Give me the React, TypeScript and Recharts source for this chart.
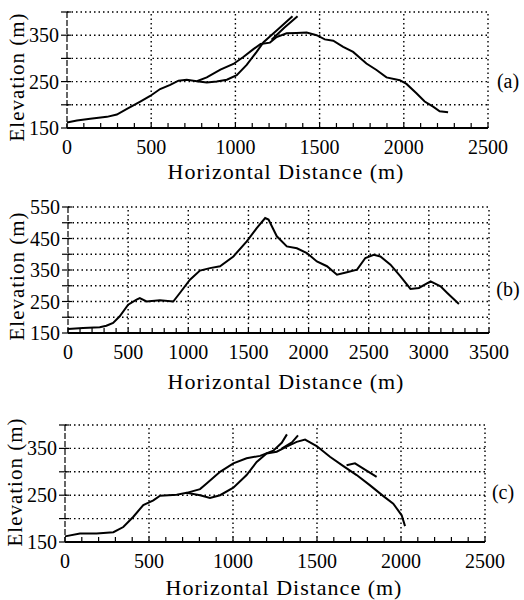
import React from 'react';
import { LineChart, Line, XAxis, YAxis, ReferenceLine } from 'recharts';

// ---- panel (a) ----
const profileAx = [0, 59, 138, 237, 296, 356, 435, 494, 553, 613, 662, 711, 771, 830, 911, 988, 1047, 1107, 1150, 1205, 1245, 1304, 1363, 1423, 1482, 1531, 1581, 1640, 1699, 1778, 1838, 1897, 1976, 2016, 2075, 2124, 2174, 2213, 2263];
const profileAy = [162, 166, 170, 174, 179, 191, 207, 219, 234, 243, 252, 254, 251, 259, 276, 288, 303, 320, 331, 334, 346, 354, 355, 356, 350, 341, 338, 325, 314, 289, 275, 259, 253, 245, 225, 207, 196, 186, 184];
const altAx = [771, 830, 889, 949, 1008, 1067, 1126, 1167, 1250, 1339];
const altAy = [251, 248, 250, 254, 264, 286, 314, 335, 362, 391];
const alt2Ax = [1215, 1290, 1369];
const alt2Ay = [340, 366, 391];

// ---- panel (b) ----
const profileBx = [0, 125, 264, 319, 375, 430, 500, 570, 597, 653, 764, 875, 930, 1014, 1097, 1180, 1264, 1375, 1486, 1569, 1639, 1667, 1736, 1819, 1903, 1986, 2069, 2153, 2236, 2319, 2403, 2472, 2542, 2597, 2681, 2764, 2847, 2917, 3014, 3097, 3153, 3250];
const profileBy = [163, 166, 168, 173, 182, 203, 240, 256, 261, 250, 254, 250, 277, 319, 348, 356, 362, 393, 441, 483, 515, 510, 457, 425, 419, 404, 377, 362, 335, 343, 351, 388, 398, 393, 367, 330, 290, 293, 314, 298, 277, 242];

// ---- panel (c) ----
const profileCx = [0, 89, 188, 288, 347, 407, 466, 526, 566, 665, 724, 804, 863, 923, 1002, 1081, 1141, 1200, 1260, 1319, 1379, 1429, 1498, 1577, 1657, 1736, 1816, 1895, 1954, 2004, 2024];
const profileCy = [162, 168, 168, 171, 182, 204, 229, 239, 249, 251, 255, 250, 244, 250, 266, 293, 321, 339, 343, 354, 364, 369, 355, 332, 312, 293, 271, 248, 232, 207, 184];
const altCx = [724, 804, 843, 923, 1002, 1081, 1161, 1240, 1290, 1321];
const altCy = [255, 263, 275, 300, 318, 329, 334, 345, 362, 380];
const alt2Cx = [1292, 1351, 1387];
const alt2Cy = [350, 363, 378];
const branchCx = [1676, 1726, 1776, 1855];
const branchCy = [314, 318, 307, 289];

// ticks
const xMinor2500 = [0, 100, 200, 300, 400, 500, 600, 700, 800, 900, 1000, 1100, 1200, 1300, 1400, 1500, 1600, 1700, 1800, 1900, 2000, 2100, 2200, 2300, 2400, 2500];
const xMinor3500 = [0, 100, 200, 300, 400, 500, 600, 700, 800, 900, 1000, 1100, 1200, 1300, 1400, 1500, 1600, 1700, 1800, 1900, 2000, 2100, 2200, 2300, 2400, 2500, 2600, 2700, 2800, 2900, 3000, 3100, 3200, 3300, 3400, 3500];
const xLabels2500 = [0, 500, 1000, 1500, 2000, 2500];
const xLabels3500 = [0, 500, 1000, 1500, 2000, 2500, 3000, 3500];
const yTicks400 = [150, 200, 250, 300, 350, 400];
const yLabels400 = [150, 250, 350];
const yTicks550 = [150, 200, 250, 300, 350, 400, 450, 500, 550];
const yLabels550 = [150, 250, 350, 450, 550];

const FONT = '"Liberation Serif", "Times New Roman", serif';

const pts = (xs: number[], ys: number[]) => xs.map((x, i) => ({ x, y: ys[i] }));

const XTick = (props: any) => {
  const { x, y, payload, labels } = props;
  const v = payload.value;
  return (
    <g>
      <line x1={x} x2={x} y1={y} y2={y - 5} stroke="#000" strokeWidth={1.2} />
      {labels.includes(v) && (
        <text x={x} y={y + 19} textAnchor="middle" dominantBaseline="central" fontSize={20} fontFamily={FONT} fill="#000">
          {v}
        </text>
      )}
    </g>
  );
};

const YTick = (props: any) => {
  const { x, y, payload, labels } = props;
  const v = payload.value;
  return (
    <g>
      <line x1={x - 6} x2={x + 4} y1={y} y2={y} stroke="#000" strokeWidth={1.2} />
      {labels.includes(v) && (
        <text x={x - 8} y={y} textAnchor="end" dominantBaseline="central" fontSize={20} fontFamily={FONT} fill="#000">
          {v}
        </text>
      )}
    </g>
  );
};

interface PanelProps {
  top: number;
  height: number;
  plotTop: number;
  plotBottom: number;
  plotLeft: number;
  plotRight: number;
  xMax: number;
  yMax: number;
  xTicks: number[];
  xLabels: number[];
  yTicks: number[];
  yLabels: number[];
  series: { x: number; y: number }[][];
  tag: string;
  tagX: number;
  tagY: number;
  xTitle: [number, number];
  yTitle: [number, number];
}

const Panel: React.FC<PanelProps> = (p) => {
  const gridStyle = { stroke: '#000', strokeDasharray: '1.5 3', strokeWidth: 1.4 };
  return (
    <>
      <div style={{ position: 'absolute', left: 0, top: p.top }}>
        <LineChart
          width={524}
          height={p.height}
          margin={{ top: p.plotTop - p.top, right: 524 - p.plotRight, bottom: 0, left: 0 }}
        >
          <XAxis
            type="number"
            dataKey="x"
            domain={[0, p.xMax]}
            ticks={p.xTicks}
            interval={0}
            height={p.top + p.height - p.plotBottom}
            tickSize={0}
            tickMargin={0}
            tickLine={false}
            axisLine={{ stroke: '#000', strokeWidth: 2 }}
            tick={(tp: any) => <XTick {...tp} labels={p.xLabels} />}
          />
          <YAxis
            type="number"
            domain={[150, p.yMax]}
            ticks={p.yTicks}
            interval={0}
            width={p.plotLeft}
            tickSize={0}
            tickMargin={0}
            tickLine={false}
            axisLine={{ stroke: '#000', strokeWidth: 1.2, strokeDasharray: '6 2' }}
            tick={(tp: any) => <YTick {...tp} labels={p.yLabels} />}
          />
          {p.xLabels.filter((v) => v > 0).map((v) => (
            <ReferenceLine key={'x' + v} x={v} {...gridStyle} />
          ))}
          {p.yTicks.filter((v) => v > 150).map((v) => (
            <ReferenceLine key={'y' + v} y={v} {...gridStyle} />
          ))}
          {p.series.map((s, i) => (
            <Line
              key={i}
              data={s}
              dataKey="y"
              type="linear"
              stroke="#000"
              strokeWidth={2}
              dot={false}
              isAnimationActive={false}
            />
          ))}
        </LineChart>
      </div>
      <div
        style={{
          position: 'absolute',
          left: p.xTitle[0],
          top: p.xTitle[1],
          transform: 'translate(-50%, -50%)',
          whiteSpace: 'nowrap',
          fontFamily: FONT,
          fontSize: 22,
          letterSpacing: 1,
        }}
      >
        Horizontal Distance (m)
      </div>
      <div
        style={{
          position: 'absolute',
          left: p.yTitle[0],
          top: p.yTitle[1],
          transform: 'translate(-50%, -50%) rotate(-90deg)',
          whiteSpace: 'nowrap',
          fontFamily: FONT,
          fontSize: 21,
          letterSpacing: 1,
        }}
      >
        Elevation (m)
      </div>
      <div
        style={{
          position: 'absolute',
          left: p.tagX,
          top: p.tagY,
          transform: 'translate(-50%, -50%)',
          fontFamily: FONT,
          fontSize: 20,
        }}
      >
        {p.tag}
      </div>
    </>
  );
};

export default function App() {
  return (
    <div style={{ position: 'absolute', left: 0, top: 0, width: 524, height: 600, background: '#fff', overflow: 'hidden' }}>
      <Panel
        top={0}
        height={200}
        plotTop={12}
        plotBottom={128}
        plotLeft={67}
        plotRight={488}
        xMax={2500}
        yMax={400}
        xTicks={xMinor2500}
        xLabels={xLabels2500}
        yTicks={yTicks400}
        yLabels={yLabels400}
        series={[pts(profileAx, profileAy), pts(altAx, altAy), pts(alt2Ax, alt2Ay)]}
        tag="(a)"
        tagX={508}
        tagY={81}
        xTitle={[286, 172]}
        yTitle={[17, 77]}
      />
      <Panel
        top={185}
        height={215}
        plotTop={207}
        plotBottom={333}
        plotLeft={68}
        plotRight={489}
        xMax={3500}
        yMax={550}
        xTicks={xMinor3500}
        xLabels={xLabels3500}
        yTicks={yTicks550}
        yLabels={yLabels550}
        series={[pts(profileBx, profileBy)]}
        tag="(b)"
        tagX={508}
        tagY={289}
        xTitle={[286, 382]}
        yTitle={[17, 276]}
      />
      <Panel
        top={400}
        height={200}
        plotTop={425}
        plotBottom={542}
        plotLeft={65}
        plotRight={485}
        xMax={2500}
        yMax={400}
        xTicks={xMinor2500}
        xLabels={xLabels2500}
        yTicks={yTicks400}
        yLabels={yLabels400}
        series={[pts(profileCx, profileCy), pts(altCx, altCy), pts(alt2Cx, alt2Cy), pts(branchCx, branchCy)]}
        tag="(c)"
        tagX={503}
        tagY={492}
        xTitle={[284, 588]}
        yTitle={[15, 482]}
      />
    </div>
  );
}
